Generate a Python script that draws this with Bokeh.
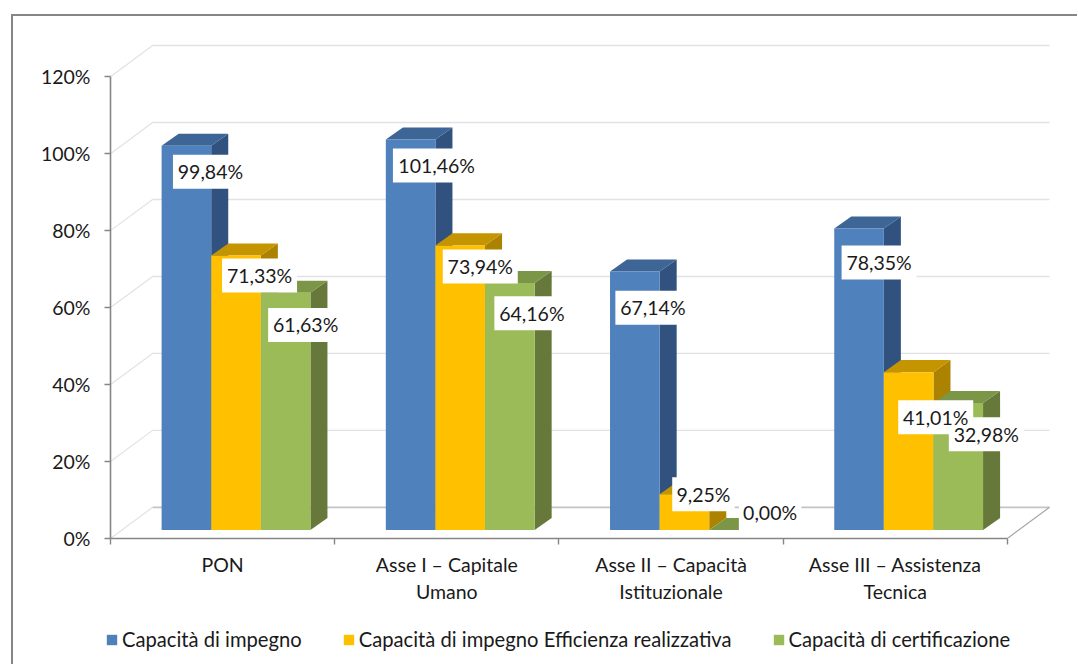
from bokeh.plotting import figure
from bokeh.layouts import column
from bokeh.models import (Range1d, FixedTicker, LinearAxis, PrintfTickFormatter, Legend, LegendItem,
                          ColumnDataSource)
from bokeh.core.properties import value
from bokeh.embed import file_html
from bokeh.resources import INLINE

categories = ["PON", "Asse I \u2013 Capitale\nUmano", "Asse II \u2013 Capacit\u00e0\nIstituzionale", "Asse III \u2013 Assistenza\nTecnica"]
series_names = ["Capacit\u00e0 di impegno", "Capacit\u00e0 di impegno Efficienza realizzativa", "Capacit\u00e0 di certificazione"]
impegno = [99.84, 101.46, 67.14, 78.35]
efficienza = [71.33, 73.94, 9.25, 41.01]
certificazione = [61.63, 64.16, 0.00, 32.98]
y_ticks = [0, 20, 40, 60, 80, 100, 120]

# layout (pixels)
MX, MY = 11, 14          # outer frame position on the page
BW = 2                   # outer frame line width
OX, OY = MX + BW + 1, MY + BW + 2  # drawing origin inside the frame lines
W, H = 1078 - OX, 620 - OY
W2, H2 = W, 46
PX_GROUP = 223.75
PX_PCT = 3.83
LEFT, BOTTOM_Y = 111, 537.5
FONT = value("Lato")
FS = "19.5px"
LEGEND_FS = "20.2px"
GREY = "#868686"

# label offsets from the top-centre of each bar's front face, per series then category
label_dx = [[24, 26, 18, 20], [23.5, 20, 19, 27], [20, 22, 36, 28]]
label_dy = [[26, 26, 36, 34], [20, 21, 0, 45], [32, 30, -17, 31]]

faces = ["#4F81BD", "#FFC000", "#9BBB59"]
tops = ["#3D6596", "#C49500", "#7C9648"]
sides = ["#31527F", "#AC8300", "#66783A"]

gx = lambda px: px / PX_GROUP
gy = lambda px: px / PX_PCT

p = figure(width=W, height=H, output_backend="svg", toolbar_location=None,
           x_range=Range1d(0, gx(W - (LEFT - OX))),
           y_range=Range1d(0, gy(BOTTOM_Y - OY)),
           x_axis_type=None, y_axis_type=None,
           min_border_left=LEFT - OX, min_border_right=0, min_border_top=0,
           min_border_bottom=int(H - (BOTTOM_Y - OY)),
           outline_line_color=None, background_fill_color="white", border_fill_color="white",
           margin=(MY, 0, 0, MX),
           styles={"border-top": f"{BW}px solid {GREY}", "border-left": f"{BW}px solid {GREY}", "box-sizing": "content-box"})
p.grid.visible = False

# walls and floor
wall_dx, wall_dy = gx(42), gy(31)
n = len(categories)
p.segment([0] * len(y_ticks), y_ticks, [wall_dx] * len(y_ticks), [t + wall_dy for t in y_ticks],
          line_color="#E2E2E2", line_width=1.2)
p.segment([wall_dx] * (len(y_ticks) - 1), [t + wall_dy for t in y_ticks[1:]],
          [n + wall_dx] * (len(y_ticks) - 1), [t + wall_dy for t in y_ticks[1:]],
          line_color="#E2E2E2", line_width=1.4)
p.segment([wall_dx], [wall_dy], [n + wall_dx], [wall_dy], line_color="#C4C4C4", line_width=1.6)
p.segment([n], [0], [n + wall_dx], [wall_dy], line_color="#A6A6A6", line_width=1.2)

# bars
bar_w = gx(49.5)
bar_start = gx(51)
base = gy(8.5)
dx, dy = gx(17), gy(12)
all_vals = [impegno, efficienza, certificazione]
for g in range(n):
    for s, vals in enumerate(all_vals):
        x0 = g + bar_start + s * bar_w
        x1 = x0 + bar_w
        y1 = base + vals[g]
        p.patch([x1, x1 + dx, x1 + dx, x1], [base, base + dy, y1 + dy, y1], color=sides[s], line_width=0)
        p.patch([x0, x1, x1 + dx, x0 + dx], [y1, y1, y1 + dy, y1 + dy], color=tops[s], line_width=0)
        p.quad(left=[x0], right=[x1], bottom=[base], top=[y1], color=faces[s], line_width=0)

# value labels with white boxes
xs, ys, txt, wd = [], [], [], []
for s, vals in enumerate(all_vals):
    for g in range(n):
        xs.append(g + bar_start + (s + 0.5) * bar_w + gx(label_dx[s][g]))
        ys.append(base + vals[g] - gy(label_dy[s][g]))
        t = f"{vals[g]:.2f}%".replace(".", ",")
        txt.append(t)
        wd.append(12.5 * len(t))
src = ColumnDataSource(dict(x=xs, y=ys, t=txt, w=wd))
p.rect(x="x", y="y", width="w", height=34, width_units="screen", height_units="screen", source=src,
       fill_color="white", line_color=None)
p.text(x="x", y="y", text="t", source=src, text_font=FONT, text_font_size=FS,
       text_color="#1A1A1A", text_align="center", text_baseline="middle")

# axes
yaxis = LinearAxis(ticker=FixedTicker(ticks=y_ticks), formatter=PrintfTickFormatter(format="%d%%"),
                   bounds=(0, 120), axis_line_color=GREY, axis_line_width=1.6,
                   major_tick_line_color=GREY, major_tick_line_width=1.4, major_tick_out=6, major_tick_in=0,
                   minor_tick_line_color=None, major_label_standoff=14,
                   major_label_text_font="Lato", major_label_text_font_size=FS, major_label_text_color="#1A1A1A")
p.add_layout(yaxis, "left")
mids = [g + 0.5 for g in range(n)]
xaxis = LinearAxis(ticker=FixedTicker(ticks=mids, minor_ticks=list(range(n + 1))),
                   major_label_overrides={m: c for m, c in zip(mids, categories)},
                   bounds=(0, n), axis_line_color=GREY, axis_line_width=1.6,
                   major_tick_line_color=None, major_tick_out=0, major_tick_in=0,
                   minor_tick_line_color=GREY, minor_tick_line_width=1.4, minor_tick_out=6, minor_tick_in=0,
                   major_label_standoff=8, major_label_text_font="Lato", major_label_text_font_size=FS,
                   major_label_text_color="#1A1A1A")
p.add_layout(xaxis, "below")

# legend strip: its key glyphs lie outside the strip's visible range
q = figure(width=W2, height=H2, output_backend="svg", toolbar_location=None,
           x_range=Range1d(0, 1), y_range=Range1d(0, 1), x_axis_type=None, y_axis_type=None,
           min_border=0, outline_line_color=None, background_fill_color="white", border_fill_color="white",
           margin=(0, 0, 0, MX),
           styles={"border-left": f"{BW}px solid {GREY}", "box-sizing": "content-box"})
q.grid.visible = False
keys = [q.quad(left=[-2], right=[-1], bottom=[0], top=[vals[0]], color=c, line_width=0)
        for vals, c in zip(all_vals, faces)]
legend = Legend(items=[LegendItem(label=value(nm), renderers=[r]) for nm, r in zip(series_names, keys)],
                orientation="horizontal", location=(106 - OX, 13), spacing=40, label_standoff=4,
                glyph_width=13, glyph_height=13, padding=0, margin=0,
                border_line_color=None, background_fill_alpha=0,
                label_text_font="Lato", label_text_font_size=LEGEND_FS, label_text_color="#1A1A1A")
q.add_layout(legend, "center")

page = column(p, column(q), spacing=0)
open("out.html", "w").write(file_html(page, INLINE))
